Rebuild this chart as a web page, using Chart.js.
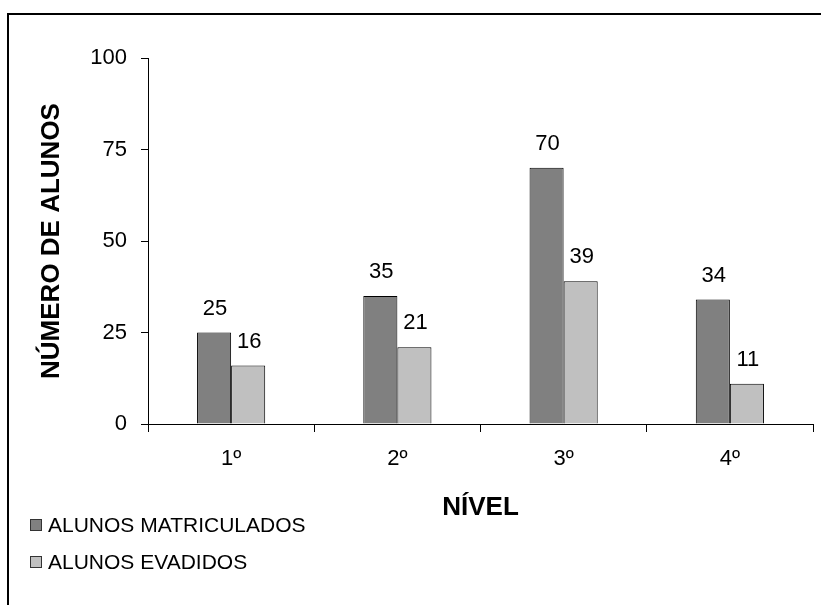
<!DOCTYPE html>
<html>
<head>
<meta charset="utf-8">
<script src="https://cdn.jsdelivr.net/npm/chart.js@4.4.1/dist/chart.umd.min.js"></script>
<style>
  html, body { margin: 0; padding: 0; background: #fff; }
  #wrap { width: 821px; height: 605px; }
</style>
</head>
<body>
<div id="wrap"><canvas id="chart" width="821" height="605"></canvas></div>
<script>
const niveis = ["1º", "2º", "3º", "4º"];
const matriculados = [25, 35, 70, 34];
const evadidos = [16, 21, 39, 11];
const yTicks = [0, 25, 50, 75, 100];

const FONT = "'Liberation Sans', Arial, sans-serif";

// frame round the chart (only left and top show in the picture)
const framePlugin = {
  id: "frame",
  beforeDraw(chart) {
    const { ctx } = chart;
    ctx.save();
    ctx.strokeStyle = "#000";
    ctx.lineWidth = 2;
    ctx.beginPath();
    ctx.moveTo(8, 605);
    ctx.lineTo(8, 14);
    ctx.lineTo(821, 14);
    ctx.stroke();
    ctx.restore();
  },
};

// value above every bar
const valueLabels = {
  id: "valueLabels",
  afterDatasetsDraw(chart) {
    const { ctx } = chart;
    ctx.save();
    ctx.font = "22px " + FONT;
    ctx.fillStyle = "#000";
    ctx.textAlign = "center";
    ctx.textBaseline = "middle";
    chart.data.datasets.forEach((ds, i) => {
      chart.getDatasetMeta(i).data.forEach((bar, j) => {
        ctx.fillText(String(ds.data[j]), bar.x + 1, bar.y - 24);
      });
    });
    ctx.restore();
  },
};

// legend stacked under the axis title
const stackedLegend = {
  id: "stackedLegend",
  afterDraw(chart) {
    const { ctx } = chart;
    ctx.save();
    ctx.font = "21px " + FONT;
    ctx.textBaseline = "middle";
    ctx.textAlign = "left";
    chart.data.datasets.forEach((ds, i) => {
      const y = 525 + i * 37;
      ctx.fillStyle = ds.backgroundColor;
      ctx.fillRect(30, y - 6, 12, 12);
      ctx.strokeStyle = "#333";
      ctx.lineWidth = 1;
      ctx.strokeRect(30.5, y - 5.5, 11, 11);
      ctx.fillStyle = "#000";
      ctx.fillText(ds.label, 48, y + 1);
    });
    ctx.restore();
  },
};

new Chart(document.getElementById("chart").getContext("2d"), {
  type: "bar",
  data: {
    labels: niveis,
    datasets: [
      {
        label: "ALUNOS MATRICULADOS",
        data: matriculados,
        backgroundColor: "#808080",
        borderColor: "#000",
        borderWidth: 1,
        barPercentage: 1,
        categoryPercentage: 0.41,
      },
      {
        label: "ALUNOS EVADIDOS",
        data: evadidos,
        backgroundColor: "#c0c0c0",
        borderColor: "#000",
        borderWidth: 1,
        barPercentage: 1,
        categoryPercentage: 0.41,
      },
    ],
  },
  options: {
    responsive: false,
    animation: false,
    layout: { padding: { left: 0, right: 8, top: 58, bottom: 81 } },
    plugins: {
      legend: { display: false },
      tooltip: { enabled: false },
    },
    scales: {
      x: {
        grid: { drawOnChartArea: false, color: "#000", tickLength: 8, offset: true },
        border: { color: "#000", width: 1 },
        ticks: { color: "#000", font: { family: FONT, size: 22 }, padding: 14 },
        title: {
          display: true,
          text: "NÍVEL",
          color: "#000",
          font: { family: FONT, size: 26, weight: "bold" },
          padding: { top: 0, bottom: 1 },
        },
        afterFit(scale) { scale.height = 100; },
      },
      y: {
        min: 0,
        max: 100,
        afterBuildTicks(scale) { scale.ticks = yTicks.map(v => ({ value: v })); },
        grid: { drawOnChartArea: false, color: "#000", tickLength: 7 },
        border: { color: "#000", width: 1 },
        ticks: { color: "#000", font: { family: FONT, size: 22 }, padding: 14 },
        title: {
          display: true,
          text: "NÚMERO DE ALUNOS",
          color: "#000",
          font: { family: FONT, size: 26, weight: "bold" },
          padding: { top: 36, bottom: 0 },
        },
        afterFit(scale) { scale.width = 148; },
      },
    },
  },
  plugins: [framePlugin, valueLabels, stackedLegend],
});
</script>
</body>
</html>
